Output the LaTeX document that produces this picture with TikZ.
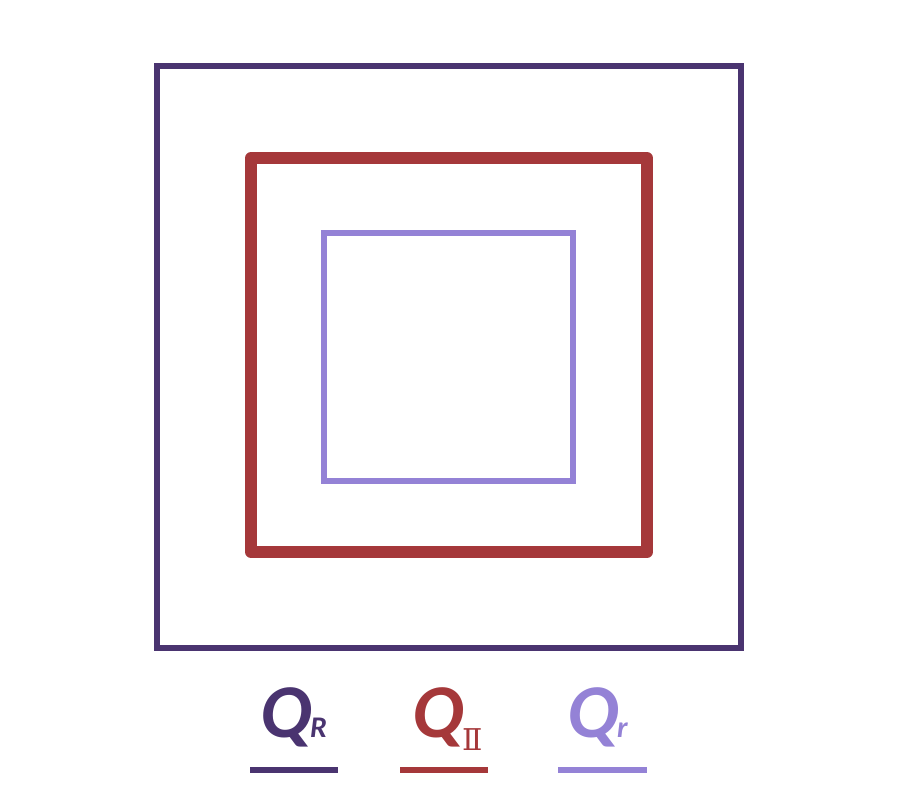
\documentclass[tikz,border=0pt]{standalone}
\usepackage{fontspec}
\setmainfont{Carlito}
\newfontfamily\numfont{DejaVu Serif}
\usetikzlibrary{positioning}
\definecolor{outerPurple}{RGB}{74,52,112}
\definecolor{midRed}{RGB}{165,56,58}
\definecolor{innerLilac}{RGB}{148,130,214}

\begin{document}
\begin{tikzpicture}[x=1pt, y=-1pt,
  frame/.style={draw=#1, line width=6pt},
  keyline/.style={draw=#1, line width=6pt},
  qsym/.style={text=#1, inner sep=0pt, anchor=base west,
               font=\fontsize{76}{76}\selectfont\bfseries\itshape},
  qsub/.style={text=#1, inner sep=0pt, anchor=base west,
               font=\fontsize{30}{30}\selectfont\bfseries\itshape}
]
  \useasboundingbox (0,0) rectangle (900,800);
  % nested squares
  \draw[frame=outerPurple] (157,66) rectangle (741,648);
  \draw[frame=midRed, line width=12pt, line join=round]
    (251,158) rectangle (647,552);
  \draw[frame=innerLilac] (324,233) rectangle (573,481);
  % legend
  \node[qsym=outerPurple] (qR) at (260,737) {Q};
  \node[qsub=outerPurple, right=-2pt of qR.base east, anchor=base west] (sR) {R};
  \node[qsym=midRed] (qII) at (412,737) {Q};
  \node[qsub=midRed, right=-2pt of qII.base east, anchor=base west,
        yshift=-13pt, font=\fontsize{30}{30}\selectfont\numfont] (sII) {Ⅱ};
  \node[qsym=innerLilac] (qr) at (567,737) {Q};
  \node[qsub=innerLilac, right=-2pt of qr.base east, anchor=base west] (sr) {r};
  \draw[keyline=outerPurple] (250,770) -- (338,770);
  \draw[keyline=midRed] (400,770) -- (488,770);
  \draw[keyline=innerLilac] (558,770) -- (647,770);
\end{tikzpicture}
\end{document}
